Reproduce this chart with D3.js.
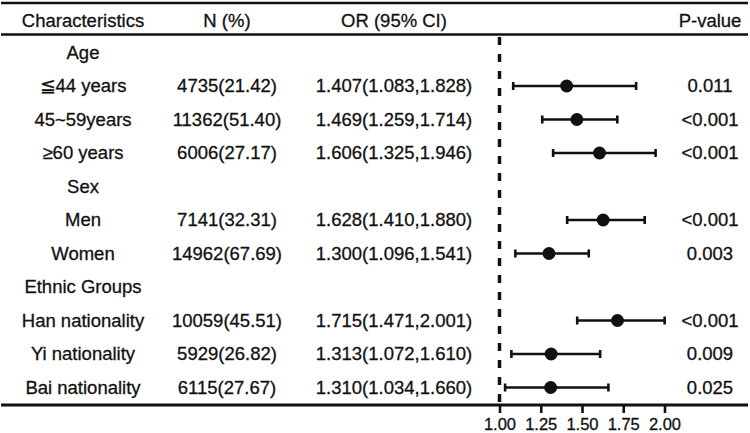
<!DOCTYPE html>
<html>
<head>
<meta charset="utf-8">
<script src="https://cdn.jsdelivr.net/npm/d3@7"></script>
<style>
  body { margin: 0; background: #fff; }
  text { font-family: "Liberation Sans", Arial, sans-serif; fill: #111; stroke: #111; stroke-width: 0.3px; }
</style>
</head>
<body>
<div id="chart"></div>
<script>
  // table rows, group headers have no values
  var labels = ["Age", "≦44 years", "45~59years", "≥60 years", "Sex", "Men", "Women",
    "Ethnic Groups", "Han nationality", "Yi nationality", "Bai nationality"];
  var nPct = [null, "4735(21.42)", "11362(51.40)", "6006(27.17)", null, "7141(32.31)", "14962(67.69)",
    null, "10059(45.51)", "5929(26.82)", "6115(27.67)"];
  var or = [null, 1.407, 1.469, 1.606, null, 1.628, 1.300, null, 1.715, 1.313, 1.310];
  var lo = [null, 1.083, 1.259, 1.325, null, 1.410, 1.096, null, 1.471, 1.072, 1.034];
  var hi = [null, 1.828, 1.714, 1.946, null, 1.880, 1.541, null, 2.001, 1.610, 1.660];
  var pVal = [null, "0.011", "<0.001", "<0.001", null, "<0.001", "0.003", null, "<0.001", "0.009", "0.025"];
  var headers = ["Characteristics", "N (%)", "OR (95% CI)", "P-value"];
  var tickVals = [1.00, 1.25, 1.50, 1.75, 2.00];

  var width = 750, height = 433;

  var svg = d3.select("#chart").append("svg")
    .attr("width", width)
    .attr("height", height);

  var x = d3.scaleLinear().domain([1, 2]).range([499.5, 664.5]);
  var y = d3.scaleLinear().domain([0, 10]).range([52.5, 387.5]);

  var fmt = d3.format(".3f");
  var colX = [83, 227, 394, 710];
  var fs = "18.5px";

  // horizontal rules
  [3, 34.5].forEach(function (yy) {
    svg.append("line")
      .attr("x1", 1).attr("x2", 748)
      .attr("y1", yy).attr("y2", yy)
      .attr("stroke", "#111").attr("stroke-width", 2.6);
  });

  // header
  svg.selectAll("text.head").data(headers).enter().append("text")
    .attr("class", "head")
    .attr("x", function (d, i) { return colX[i]; })
    .attr("y", 26.5)
    .attr("text-anchor", "middle")
    .style("font-size", fs)
    .text(function (d) { return d; });

  var rows = svg.selectAll("g.row").data(labels).enter().append("g")
    .attr("class", "row")
    .attr("transform", function (d, i) { return "translate(0," + y(i) + ")"; });

  rows.append("text")
    .attr("x", colX[0]).attr("dy", "0.35em")
    .attr("text-anchor", "middle").style("font-size", fs)
    .text(function (d) { return d; });

  rows.append("text")
    .attr("x", colX[1]).attr("dy", "0.35em")
    .attr("text-anchor", "middle").style("font-size", fs)
    .text(function (d, i) { return nPct[i] || ""; });

  rows.append("text")
    .attr("x", colX[2]).attr("dy", "0.35em")
    .attr("text-anchor", "middle").style("font-size", fs)
    .text(function (d, i) {
      return or[i] == null ? "" : fmt(or[i]) + "(" + fmt(lo[i]) + "," + fmt(hi[i]) + ")";
    });

  rows.append("text")
    .attr("x", colX[3]).attr("dy", "0.35em")
    .attr("text-anchor", "middle").style("font-size", fs)
    .text(function (d, i) { return pVal[i] || ""; });

  // reference line at OR = 1
  svg.append("line")
    .attr("x1", x(1)).attr("x2", x(1))
    .attr("y1", 37).attr("y2", 405)
    .attr("stroke", "#111").attr("stroke-width", 3.5)
    .attr("stroke-dasharray", "8,9");

  // CI bars
  var est = rows.filter(function (d, i) { return or[i] != null; });
  var idx = function (d) { return labels.indexOf(d); };

  est.append("line")
    .attr("x1", function (d) { return x(lo[idx(d)]); })
    .attr("x2", function (d) { return x(hi[idx(d)]); })
    .attr("stroke", "#111").attr("stroke-width", 2.6);

  est.append("line")
    .attr("x1", function (d) { return x(lo[idx(d)]); })
    .attr("x2", function (d) { return x(lo[idx(d)]); })
    .attr("y1", -4).attr("y2", 4)
    .attr("stroke", "#111").attr("stroke-width", 2.6);

  est.append("line")
    .attr("x1", function (d) { return x(hi[idx(d)]); })
    .attr("x2", function (d) { return x(hi[idx(d)]); })
    .attr("y1", -4).attr("y2", 4)
    .attr("stroke", "#111").attr("stroke-width", 2.6);

  est.append("circle")
    .attr("cx", function (d) { return x(or[idx(d)]); })
    .attr("r", 6.5)
    .attr("fill", "#111");

  // bottom rule doubles as the x axis
  svg.append("line")
    .attr("x1", 1).attr("x2", 748)
    .attr("y1", 405).attr("y2", 405)
    .attr("stroke", "#111").attr("stroke-width", 3);

  var axis = svg.append("g")
    .attr("transform", "translate(0,405)")
    .call(d3.axisBottom(x).tickValues(tickVals).tickFormat(d3.format(".2f")).tickSize(8).tickPadding(5));

  axis.select(".domain").remove();
  axis.selectAll(".tick line").attr("stroke", "#111").attr("stroke-width", 2.6);
  axis.selectAll(".tick text")
    .style("font-family", "'Liberation Sans', Arial, sans-serif")
    .style("font-size", "16.5px")
    .attr("fill", "#111");
</script>
</body>
</html>
